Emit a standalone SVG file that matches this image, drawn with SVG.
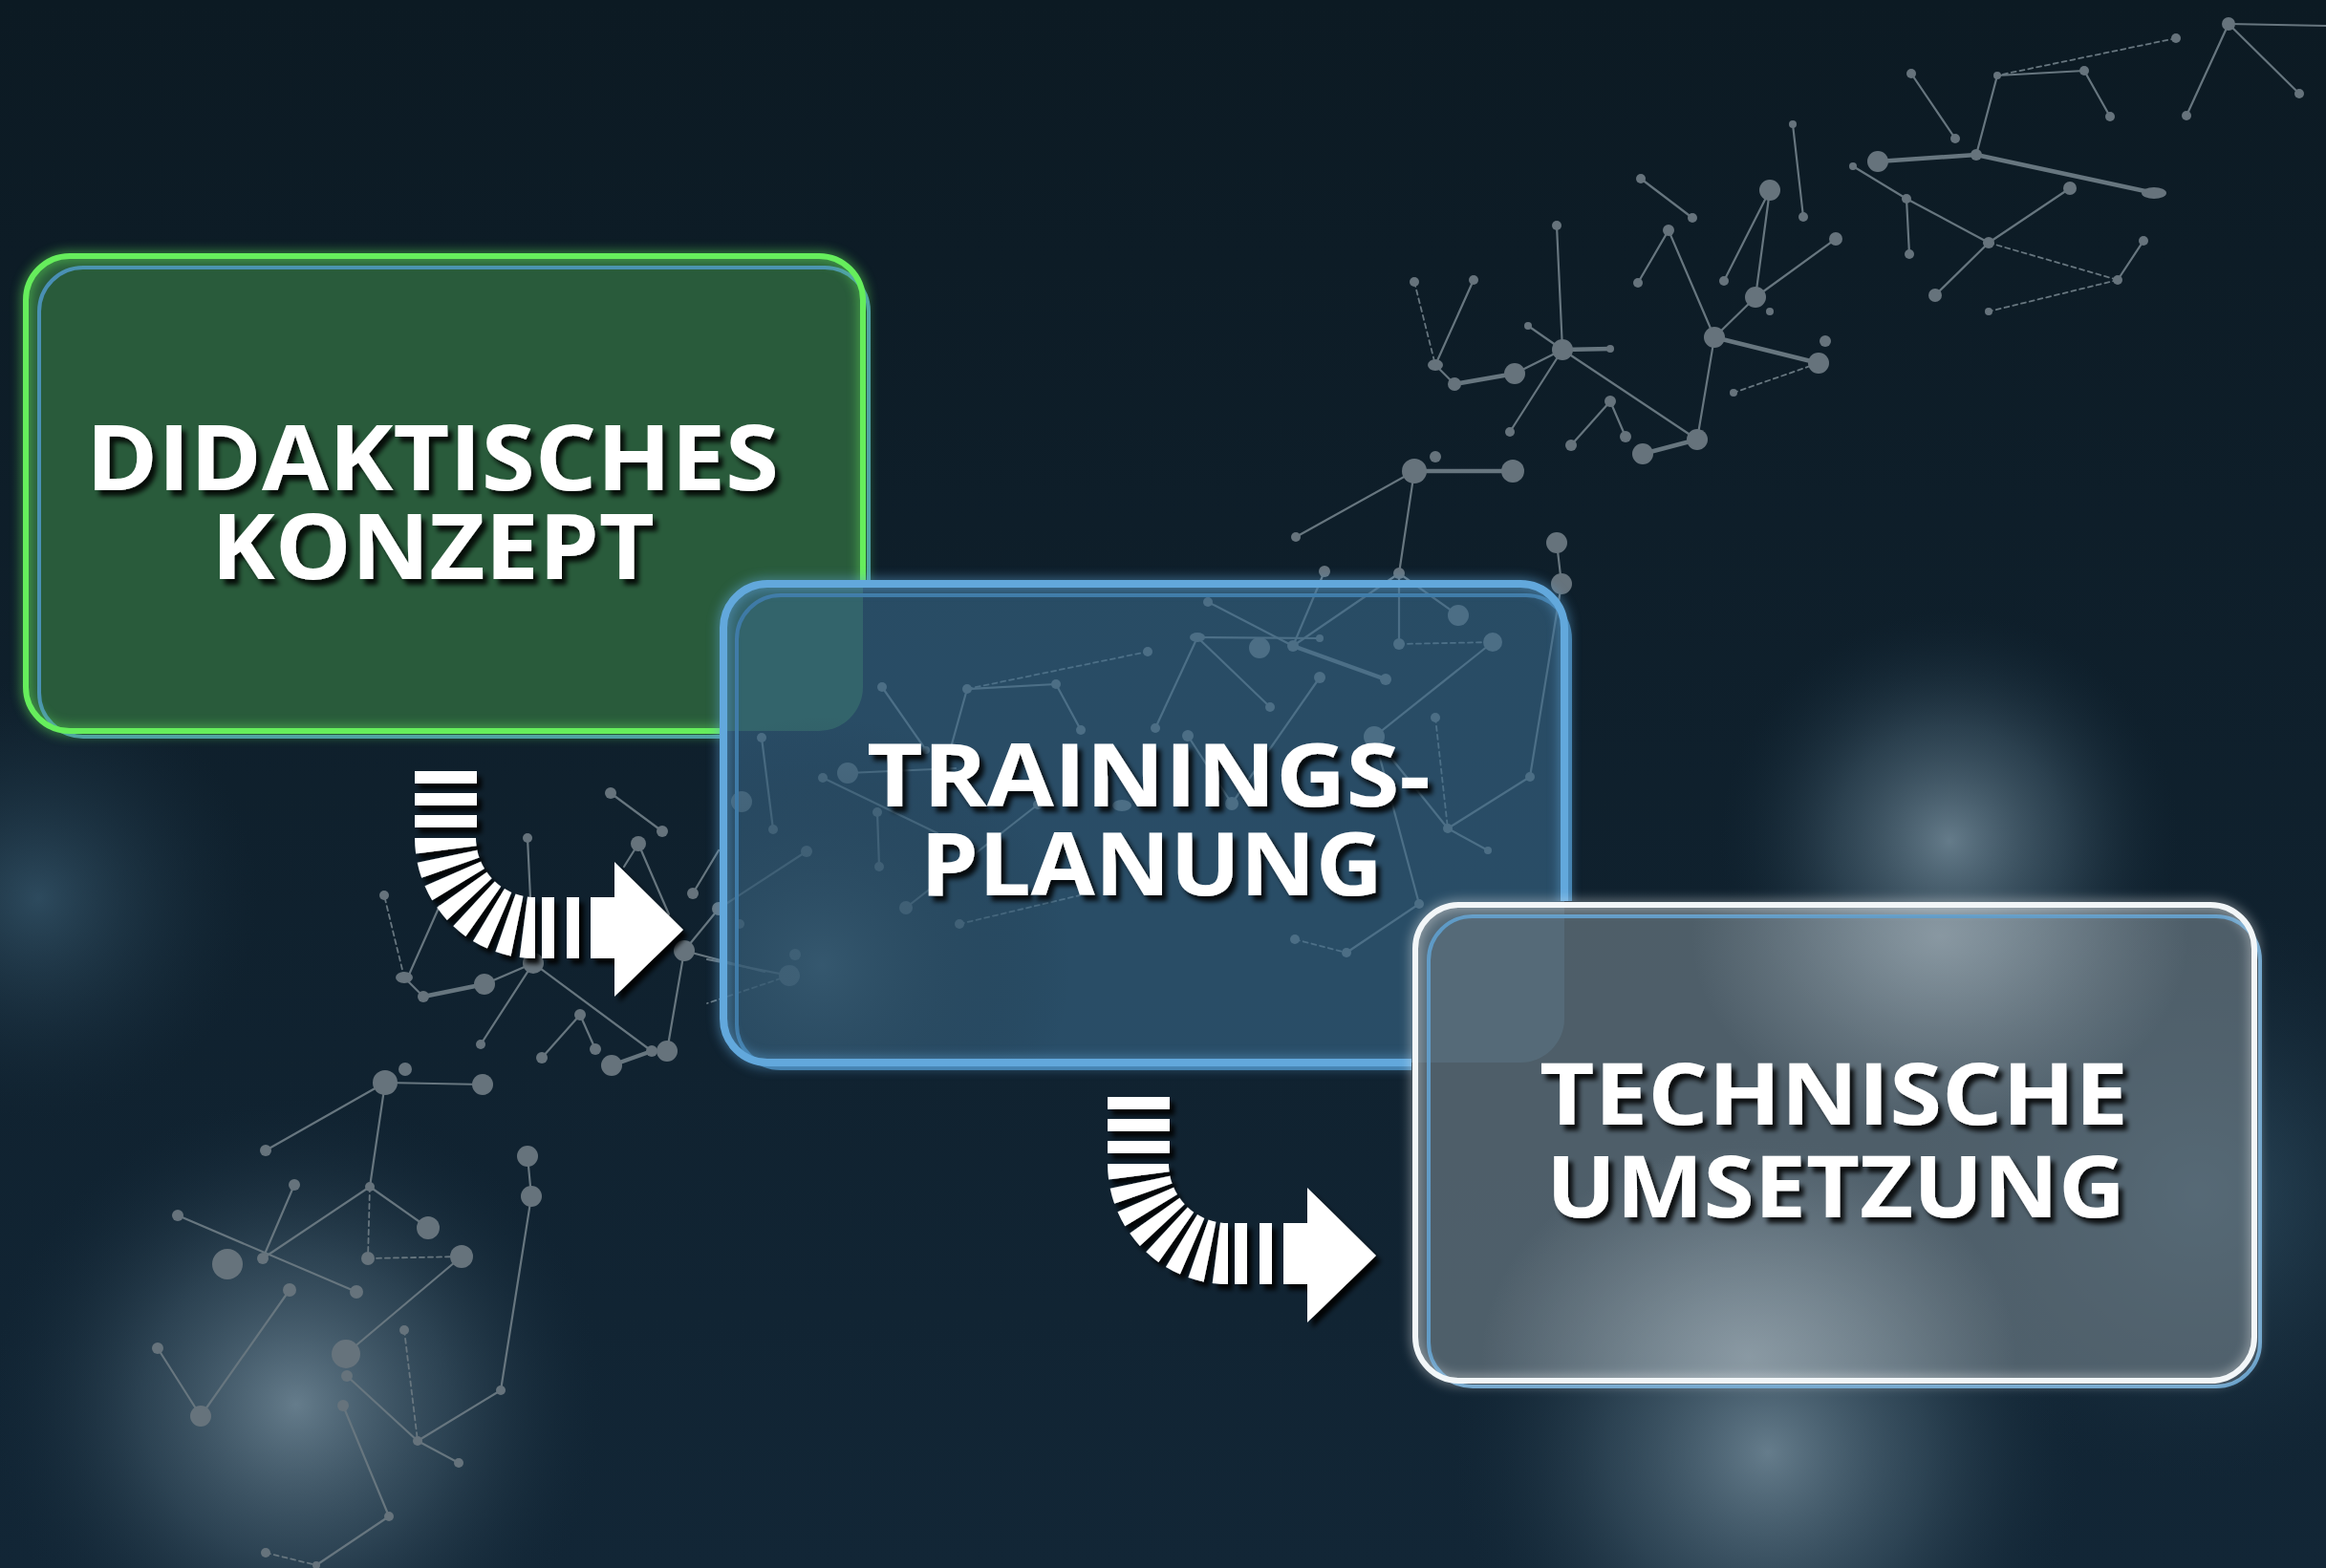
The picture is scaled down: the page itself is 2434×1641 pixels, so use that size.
<svg xmlns="http://www.w3.org/2000/svg" xmlns:xlink="http://www.w3.org/1999/xlink" width="2434" height="1641" viewBox="0 0 2434 1641">
<defs>
<style>
.l{stroke:#67767f;stroke-width:2.2;fill:none;stroke-linecap:round}
.t{stroke-width:4.5}
.k{stroke-dasharray:5 4;stroke-width:1.8}
.d{fill:#66737c}
.lbl{font-family:"Open Sans","Liberation Sans",sans-serif;font-weight:700;fill:#ffffff;filter:url(#tsh)}
.bar{fill:#ffffff}
</style>
<linearGradient id="bg" x1="0" y1="0" x2="0" y2="1">
<stop offset="0" stop-color="#0c1a23"/>
<stop offset="1" stop-color="#122636"/>
</linearGradient>
<radialGradient id="glowA"><stop offset="0" stop-color="#7a92a1" stop-opacity=".8"/><stop offset=".5" stop-color="#4d6778" stop-opacity=".45"/><stop offset="1" stop-color="#1a3040" stop-opacity="0"/></radialGradient>
<radialGradient id="glowB"><stop offset="0" stop-color="#3a5c72" stop-opacity=".7"/><stop offset="1" stop-color="#1a3040" stop-opacity="0"/></radialGradient>
<radialGradient id="glowC"><stop offset="0" stop-color="#a9b7c0" stop-opacity=".6"/><stop offset="1" stop-color="#a9b7c0" stop-opacity="0"/></radialGradient>
<filter id="tsh" x="-10%" y="-30%" width="120%" height="160%"><feDropShadow dx="5" dy="6" stdDeviation="2.5" flood-color="#000" flood-opacity=".85"/></filter>
<filter id="ash" x="-20%" y="-20%" width="140%" height="140%"><feDropShadow dx="5" dy="6" stdDeviation="2.5" flood-color="#000" flood-opacity=".9"/></filter>
<filter id="blur6"><feGaussianBlur stdDeviation="6"/></filter>
<mask id="m-b2" maskUnits="userSpaceOnUse" x="0" y="0" width="2434" height="1641">
<rect x="0" y="0" width="2434" height="1641" fill="#fff"/>
<rect x="753" y="607" width="888" height="509" rx="46" fill="#000"/>
</mask>
<mask id="m-b3" maskUnits="userSpaceOnUse" x="0" y="0" width="2434" height="1641">
<rect x="0" y="0" width="2434" height="1641" fill="#fff"/>
<rect x="1477" y="943" width="886" height="506" rx="46" fill="#000"/>
</mask>
<clipPath id="c-b3"><rect x="1481" y="947" width="878" height="498" rx="46"/></clipPath>
<clipPath id="c-b2"><rect x="757" y="611" width="880" height="501" rx="46"/></clipPath>
<g id="arrowShape">
<rect class="bar" x="434" y="807" width="65" height="13"/>
<rect class="bar" x="434" y="830" width="65" height="13"/>
<rect class="bar" x="434" y="853" width="65" height="13"/>
<path d="M466 877 A94 94 0 0 0 560 971" fill="none" stroke="#ffffff" stroke-width="64" stroke-dasharray="12.5 6.8"/>
<rect class="bar" x="567" y="939" width="13" height="64"/>
<rect class="bar" x="593" y="939" width="13" height="64"/>
<polygon class="bar" points="618,939 643,939 643,902 715,973 643,1043 643,1003 618,1003"/>
</g>
</defs>

<rect x="0" y="0" width="2434" height="1641" fill="url(#bg)"/>
<g id="glows">
<circle cx="310" cy="1470" r="320" fill="url(#glowA)"/>
<circle cx="40" cy="940" r="230" fill="url(#glowB)"/>
<circle cx="2040" cy="880" r="240" fill="url(#glowA)"/>
<circle cx="1850" cy="1520" r="330" fill="url(#glowA)"/>
<circle cx="2300" cy="1250" r="300" fill="url(#glowB)"/>
</g>

<g id="network">
<line class="l" x1="2332" y1="25" x2="2434" y2="27"/>
<line class="l" x1="2332" y1="25" x2="2406" y2="98"/>
<line class="l" x1="2332" y1="25" x2="2288" y2="121"/>
<line class="l k" x1="2277" y1="40" x2="2090" y2="79"/>
<line class="l" x1="2090" y1="79" x2="2181" y2="74"/>
<line class="l" x1="2181" y1="74" x2="2208" y2="122"/>
<line class="l" x1="2000" y1="77" x2="2046" y2="145"/>
<line class="l" x1="2090" y1="79" x2="2068" y2="162"/>
<line class="l t" x1="1965" y1="169" x2="2068" y2="162"/>
<line class="l t" x1="2068" y1="162" x2="2254" y2="202"/>
<line class="l" x1="2166" y1="197" x2="2081" y2="254"/>
<line class="l" x1="1939" y1="174" x2="1995" y2="208"/>
<line class="l" x1="1995" y1="208" x2="2081" y2="254"/>
<line class="l" x1="1995" y1="208" x2="1998" y2="266"/>
<line class="l" x1="2081" y1="254" x2="2025" y2="309"/>
<line class="l k" x1="2081" y1="254" x2="2216" y2="293"/>
<line class="l" x1="2216" y1="293" x2="2243" y2="252"/>
<line class="l k" x1="2216" y1="293" x2="2081" y2="326"/>
<line class="l" x1="1876" y1="130" x2="1887" y2="227"/>
<line class="l" x1="1852" y1="199" x2="1804" y2="294"/>
<line class="l" x1="1852" y1="199" x2="1837" y2="311"/>
<line class="l" x1="1837" y1="311" x2="1921" y2="250"/>
<line class="l" x1="1837" y1="311" x2="1794" y2="353"/>
<line class="l t" x1="1794" y1="353" x2="1903" y2="380"/>
<line class="l k" x1="1903" y1="380" x2="1814" y2="411"/>
<line class="l" x1="1746" y1="241" x2="1794" y2="353"/>
<line class="l" x1="1746" y1="241" x2="1714" y2="296"/>
<line class="l" x1="1717" y1="187" x2="1771" y2="228"/>
<line class="l" x1="1794" y1="353" x2="1776" y2="460"/>
<line class="l" x1="1629" y1="236" x2="1635" y2="366"/>
<line class="l t" x1="1635" y1="366" x2="1685" y2="365"/>
<line class="l" x1="1599" y1="341" x2="1635" y2="366"/>
<line class="l" x1="1635" y1="366" x2="1585" y2="391"/>
<line class="l t" x1="1585" y1="391" x2="1522" y2="402"/>
<line class="l" x1="1502" y1="382" x2="1522" y2="402"/>
<line class="l k" x1="1480" y1="295" x2="1502" y2="382"/>
<line class="l" x1="1542" y1="293" x2="1502" y2="382"/>
<line class="l" x1="1635" y1="366" x2="1580" y2="452"/>
<line class="l" x1="1685" y1="420" x2="1644" y2="466"/>
<line class="l" x1="1685" y1="420" x2="1701" y2="457"/>
<line class="l t" x1="1719" y1="475" x2="1776" y2="460"/>
<line class="l" x1="1635" y1="366" x2="1776" y2="460"/>
<line class="l t" x1="1480" y1="493" x2="1583" y2="493"/>
<line class="l" x1="1480" y1="493" x2="1356" y2="562"/>
<line class="l" x1="1480" y1="493" x2="1464" y2="600"/>
<line class="l" x1="1386" y1="598" x2="1353" y2="676"/>
<line class="l" x1="1464" y1="600" x2="1353" y2="676"/>
<line class="l" x1="1464" y1="600" x2="1526" y2="644"/>
<line class="l" x1="1464" y1="600" x2="1464" y2="674"/>
<line class="l" x1="1629" y1="568" x2="1634" y2="611"/>
<line class="l" x1="1634" y1="611" x2="1601" y2="813"/>
<line class="l" x1="1264" y1="630" x2="1353" y2="676"/>
<line class="l t" x1="1353" y1="676" x2="1450" y2="711"/>
<line class="l" x1="1253" y1="667" x2="1381" y2="668"/>
<line class="l k" x1="1464" y1="674" x2="1562" y2="672"/>
<line class="l" x1="1562" y1="672" x2="1438" y2="771"/>
<line class="l" x1="1253" y1="667" x2="1209" y2="762"/>
<line class="l" x1="1253" y1="667" x2="1329" y2="740"/>
<line class="l" x1="1381" y1="709" x2="1289" y2="841"/>
<line class="l" x1="1438" y1="771" x2="1515" y2="867"/>
<line class="l k" x1="1502" y1="751" x2="1515" y2="867"/>
<line class="l" x1="1515" y1="867" x2="1557" y2="890"/>
<line class="l" x1="1515" y1="867" x2="1601" y2="813"/>
<line class="l" x1="1438" y1="771" x2="1485" y2="946"/>
<line class="l" x1="1485" y1="946" x2="1409" y2="997"/>
<line class="l k" x1="1355" y1="983" x2="1409" y2="997"/>
<line class="l" x1="1243" y1="770" x2="1289" y2="841"/>
<line class="l" x1="1012" y1="721" x2="1105" y2="716"/>
<line class="l k" x1="1012" y1="721" x2="1201" y2="682"/>
<line class="l" x1="1105" y1="716" x2="1131" y2="764"/>
<line class="l" x1="923" y1="719" x2="969" y2="785"/>
<line class="l" x1="1012" y1="721" x2="989" y2="804"/>
<line class="l" x1="887" y1="809" x2="1000" y2="804"/>
<line class="l" x1="861" y1="814" x2="981" y2="872"/>
<line class="l" x1="918" y1="850" x2="920" y2="907"/>
<line class="l" x1="1086" y1="842" x2="948" y2="950"/>
<line class="l k" x1="1004" y1="967" x2="1130" y2="937"/>
<line class="l" x1="797" y1="772" x2="809" y2="868"/>
<line class="l" x1="844" y1="891" x2="752" y2="951"/>
<line class="l" x1="826" y1="1021" x2="740" y2="1004"/>
<line class="l k" x1="826" y1="1021" x2="740" y2="1050"/>
<line class="l" x1="639" y1="830" x2="693" y2="870"/>
<line class="l" x1="668" y1="883" x2="700" y2="957"/>
<line class="l" x1="668" y1="883" x2="653" y2="907"/>
<line class="l" x1="725" y1="935" x2="752" y2="890"/>
<line class="l" x1="716" y1="995" x2="752" y2="951"/>
<line class="l" x1="716" y1="995" x2="800" y2="1017"/>
<line class="l" x1="716" y1="995" x2="698" y2="1100"/>
<line class="l t" x1="682" y1="1100" x2="640" y2="1115"/>
<line class="l" x1="607" y1="1062" x2="623" y2="1098"/>
<line class="l" x1="607" y1="1062" x2="567" y2="1107"/>
<line class="l" x1="558" y1="1008" x2="682" y2="1100"/>
<line class="l" x1="558" y1="1008" x2="507" y2="1030"/>
<line class="l" x1="558" y1="1008" x2="503" y2="1093"/>
<line class="l t" x1="507" y1="1030" x2="443" y2="1043"/>
<line class="l" x1="423" y1="1023" x2="443" y2="1043"/>
<line class="l k" x1="423" y1="1023" x2="402" y2="937"/>
<line class="l" x1="428" y1="1020" x2="460" y2="948"/>
<line class="l" x1="552" y1="877" x2="555" y2="940"/>
<line class="l" x1="403" y1="1133" x2="505" y2="1135"/>
<line class="l" x1="403" y1="1133" x2="278" y2="1204"/>
<line class="l" x1="403" y1="1133" x2="387" y2="1242"/>
<line class="l" x1="552" y1="1210" x2="556" y2="1252"/>
<line class="l" x1="556" y1="1252" x2="524" y2="1455"/>
<line class="l" x1="308" y1="1240" x2="275" y2="1317"/>
<line class="l" x1="387" y1="1242" x2="275" y2="1317"/>
<line class="l" x1="186" y1="1272" x2="373" y2="1352"/>
<line class="l" x1="387" y1="1242" x2="448" y2="1285"/>
<line class="l k" x1="387" y1="1242" x2="385" y2="1317"/>
<line class="l k" x1="385" y1="1317" x2="483" y2="1315"/>
<line class="l" x1="483" y1="1315" x2="362" y2="1417"/>
<line class="l" x1="524" y1="1455" x2="437" y2="1508"/>
<line class="l" x1="363" y1="1440" x2="437" y2="1508"/>
<line class="l k" x1="423" y1="1392" x2="437" y2="1508"/>
<line class="l" x1="437" y1="1508" x2="480" y2="1531"/>
<line class="l" x1="303" y1="1350" x2="210" y2="1482"/>
<line class="l" x1="165" y1="1411" x2="210" y2="1482"/>
<line class="l" x1="359" y1="1471" x2="407" y2="1587"/>
<line class="l" x1="407" y1="1587" x2="331" y2="1638"/>
<line class="l k" x1="278" y1="1625" x2="331" y2="1638"/>

<circle class="d" cx="2332" cy="25" r="7"/><circle class="d" cx="2406" cy="98" r="5"/><circle class="d" cx="2288" cy="121" r="5"/>
<circle class="d" cx="2277" cy="40" r="5"/><circle class="d" cx="2090" cy="79" r="4"/><circle class="d" cx="2181" cy="74" r="5"/>
<circle class="d" cx="2208" cy="122" r="5"/><circle class="d" cx="2000" cy="77" r="5"/><circle class="d" cx="2046" cy="145" r="5"/>
<circle class="d" cx="2068" cy="162" r="6"/><circle class="d" cx="1965" cy="169" r="11"/><ellipse class="d" cx="2254" cy="202" rx="13" ry="6"/>
<circle class="d" cx="2166" cy="197" r="7"/><circle class="d" cx="2081" cy="254" r="6"/><circle class="d" cx="1939" cy="174" r="4"/>
<circle class="d" cx="1995" cy="208" r="5"/><circle class="d" cx="1998" cy="266" r="5"/><circle class="d" cx="2025" cy="309" r="7"/>
<circle class="d" cx="2216" cy="293" r="5"/><circle class="d" cx="2243" cy="252" r="5"/><circle class="d" cx="2081" cy="326" r="4"/>
<circle class="d" cx="1876" cy="130" r="4"/><circle class="d" cx="1887" cy="227" r="5"/><circle class="d" cx="1852" cy="199" r="11"/>
<circle class="d" cx="1804" cy="294" r="5"/><circle class="d" cx="1837" cy="311" r="11"/><circle class="d" cx="1921" cy="250" r="7"/>
<circle class="d" cx="1852" cy="326" r="4"/><circle class="d" cx="1794" cy="353" r="11"/><circle class="d" cx="1903" cy="380" r="11"/>
<circle class="d" cx="1910" cy="357" r="6"/><circle class="d" cx="1814" cy="411" r="4"/><circle class="d" cx="1746" cy="241" r="6"/>
<circle class="d" cx="1714" cy="296" r="5"/><circle class="d" cx="1717" cy="187" r="5"/><circle class="d" cx="1771" cy="228" r="5"/>
<circle class="d" cx="1776" cy="460" r="11"/><circle class="d" cx="1635" cy="366" r="11"/><circle class="d" cx="1629" cy="236" r="5"/>
<circle class="d" cx="1685" cy="365" r="4"/><circle class="d" cx="1599" cy="341" r="4"/><circle class="d" cx="1585" cy="391" r="11"/>
<circle class="d" cx="1522" cy="402" r="7"/><ellipse class="d" cx="1502" cy="382" rx="8" ry="6"/><circle class="d" cx="1480" cy="295" r="5"/>
<circle class="d" cx="1542" cy="293" r="5"/><circle class="d" cx="1580" cy="452" r="5"/><circle class="d" cx="1685" cy="420" r="6"/>
<circle class="d" cx="1644" cy="466" r="6"/><circle class="d" cx="1701" cy="457" r="6"/><circle class="d" cx="1719" cy="475" r="11"/>
<circle class="d" cx="1502" cy="478" r="6"/><circle class="d" cx="1480" cy="493" r="13"/><circle class="d" cx="1583" cy="493" r="12"/>
<circle class="d" cx="1356" cy="562" r="5"/><circle class="d" cx="1464" cy="600" r="6"/><circle class="d" cx="1386" cy="598" r="6"/>
<circle class="d" cx="1526" cy="644" r="11"/><circle class="d" cx="1629" cy="568" r="11"/><circle class="d" cx="1634" cy="611" r="11"/>
<circle class="d" cx="1264" cy="630" r="5"/><circle class="d" cx="1353" cy="676" r="6"/><circle class="d" cx="1450" cy="711" r="6"/>
<circle class="d" cx="1318" cy="678" r="11"/><ellipse class="d" cx="1253" cy="667" rx="8" ry="5"/><circle class="d" cx="1381" cy="668" r="4"/>
<circle class="d" cx="1464" cy="674" r="6"/><circle class="d" cx="1562" cy="672" r="10"/><circle class="d" cx="1438" cy="771" r="11"/>
<circle class="d" cx="1209" cy="762" r="5"/><circle class="d" cx="1329" cy="740" r="5"/><circle class="d" cx="1381" cy="709" r="6"/>
<circle class="d" cx="1502" cy="751" r="5"/><circle class="d" cx="1515" cy="867" r="5"/><circle class="d" cx="1557" cy="890" r="4"/>
<circle class="d" cx="1601" cy="813" r="5"/><circle class="d" cx="1485" cy="946" r="5"/><circle class="d" cx="1409" cy="997" r="5"/>
<circle class="d" cx="1355" cy="983" r="5"/><circle class="d" cx="1243" cy="770" r="6"/><circle class="d" cx="1289" cy="841" r="7"/>
<circle class="d" cx="1105" cy="716" r="5"/><circle class="d" cx="1012" cy="721" r="5"/><circle class="d" cx="1201" cy="682" r="5"/>
<circle class="d" cx="1131" cy="764" r="5"/><circle class="d" cx="923" cy="719" r="5"/><circle class="d" cx="969" cy="785" r="4"/>
<circle class="d" cx="989" cy="804" r="4"/><circle class="d" cx="887" cy="809" r="11"/><circle class="d" cx="861" cy="814" r="5"/>
<circle class="d" cx="918" cy="850" r="5"/><circle class="d" cx="920" cy="907" r="5"/><ellipse class="d" cx="1174" cy="843" rx="10" ry="6"/>
<circle class="d" cx="1086" cy="842" r="5"/><circle class="d" cx="948" cy="950" r="7"/><circle class="d" cx="1004" cy="967" r="5"/>
<circle class="d" cx="797" cy="772" r="5"/><circle class="d" cx="809" cy="868" r="5"/><circle class="d" cx="776" cy="839" r="11"/>
<circle class="d" cx="844" cy="891" r="6"/><circle class="d" cx="832" cy="999" r="6"/><circle class="d" cx="826" cy="1021" r="11"/>
<circle class="d" cx="774" cy="967" r="5"/><circle class="d" cx="639" cy="830" r="6"/><circle class="d" cx="693" cy="870" r="6"/>
<circle class="d" cx="668" cy="883" r="8"/><circle class="d" cx="725" cy="935" r="6"/><circle class="d" cx="752" cy="951" r="7"/>
<circle class="d" cx="716" cy="995" r="11"/><circle class="d" cx="698" cy="1100" r="11"/><circle class="d" cx="682" cy="1100" r="6"/>
<circle class="d" cx="640" cy="1115" r="11"/><circle class="d" cx="623" cy="1098" r="6"/><circle class="d" cx="607" cy="1062" r="6"/>
<circle class="d" cx="567" cy="1107" r="6"/><circle class="d" cx="558" cy="1008" r="11"/><circle class="d" cx="507" cy="1030" r="11"/>
<circle class="d" cx="443" cy="1043" r="6"/><ellipse class="d" cx="423" cy="1023" rx="9" ry="6"/><circle class="d" cx="402" cy="937" r="5"/>
<circle class="d" cx="552" cy="877" r="5"/><circle class="d" cx="503" cy="1093" r="5"/><circle class="d" cx="403" cy="1133" r="13"/>
<circle class="d" cx="424" cy="1119" r="7"/><circle class="d" cx="505" cy="1135" r="11"/><circle class="d" cx="278" cy="1204" r="6"/>
<circle class="d" cx="552" cy="1210" r="11"/><circle class="d" cx="556" cy="1252" r="11"/><circle class="d" cx="308" cy="1240" r="6"/>
<circle class="d" cx="387" cy="1242" r="5"/><circle class="d" cx="186" cy="1272" r="6"/><circle class="d" cx="275" cy="1317" r="6"/>
<circle class="d" cx="238" cy="1323" r="16"/><circle class="d" cx="373" cy="1352" r="7"/><circle class="d" cx="448" cy="1285" r="12"/>
<circle class="d" cx="385" cy="1317" r="7"/><circle class="d" cx="483" cy="1315" r="12"/><circle class="d" cx="362" cy="1417" r="15"/>
<circle class="d" cx="524" cy="1455" r="5"/><circle class="d" cx="437" cy="1508" r="5"/><circle class="d" cx="363" cy="1440" r="6"/>
<circle class="d" cx="423" cy="1392" r="5"/><circle class="d" cx="480" cy="1531" r="5"/><circle class="d" cx="303" cy="1350" r="7"/>
<circle class="d" cx="210" cy="1482" r="11"/><circle class="d" cx="165" cy="1411" r="6"/><circle class="d" cx="359" cy="1471" r="6"/>
<circle class="d" cx="407" cy="1587" r="5"/><circle class="d" cx="278" cy="1625" r="5"/><circle class="d" cx="331" cy="1638" r="4"/>
</g>

<g id="node-1">
<rect x="27" y="268" width="876" height="497" rx="46" fill="#295b3b"/>
<g mask="url(#m-b2)">
<rect x="41" y="280" width="868" height="491" rx="46" fill="none" stroke="#4a8fb5" stroke-width="4"/>
<rect x="27" y="268" width="876" height="497" rx="46" fill="none" stroke="#66ee5c" stroke-width="10" opacity=".5" filter="url(#blur6)"/>
<rect x="27" y="268" width="876" height="497" rx="46" fill="none" stroke="#66ee5c" stroke-width="6"/>
</g>
<text class="lbl" x="90" y="513" font-size="95" textLength="725" lengthAdjust="spacingAndGlyphs">DIDAKTISCHES</text>
<text class="lbl" x="221" y="606" font-size="95" textLength="464" lengthAdjust="spacingAndGlyphs">KONZEPT</text>
</g>

<g id="node-2">
<rect x="757" y="611" width="880" height="501" rx="46" fill="#3a6a8c" fill-opacity=".6"/>
<g clip-path="url(#c-b2)">
<circle cx="860" cy="1010" r="260" fill="url(#glowB)"/>
</g>
<g mask="url(#m-b3)">
<rect x="771" y="623" width="872" height="495" rx="46" fill="none" stroke="#3f7aa6" stroke-width="4"/>
<rect x="757" y="611" width="880" height="501" rx="46" fill="none" stroke="#62a8dc" stroke-width="12" opacity=".5" filter="url(#blur6)"/>
<rect x="757" y="611" width="880" height="501" rx="46" fill="none" stroke="#62a8dc" stroke-width="8"/>
</g>
<text class="lbl" x="907" y="844" font-size="92" textLength="590" lengthAdjust="spacingAndGlyphs">TRAININGS-</text>
<text class="lbl" x="963" y="937" font-size="92" textLength="484" lengthAdjust="spacingAndGlyphs">PLANUNG</text>
</g>

<g id="node-3">
<rect x="1481" y="947" width="878" height="498" rx="46" fill="#667680" fill-opacity=".72"/>
<g clip-path="url(#c-b3)">
<ellipse cx="2030" cy="980" rx="260" ry="200" fill="url(#glowC)"/>
<ellipse cx="1830" cy="1420" rx="280" ry="220" fill="url(#glowC)"/>
</g>
<rect x="1495" y="959" width="870" height="492" rx="46" fill="none" stroke="#5e9ac6" stroke-width="4"/>
<rect x="1481" y="947" width="878" height="498" rx="46" fill="none" stroke="#ffffff" stroke-width="10" opacity=".4" filter="url(#blur6)"/>
<rect x="1481" y="947" width="878" height="498" rx="46" fill="none" stroke="#f2f6f8" stroke-width="6"/>
<text class="lbl" x="1611" y="1177" font-size="90" textLength="616" lengthAdjust="spacingAndGlyphs">TECHNISCHE</text>
<text class="lbl" x="1618" y="1274" font-size="90" textLength="606" lengthAdjust="spacingAndGlyphs">UMSETZUNG</text>
</g>

<g id="connectors">
<g id="arrow-1" filter="url(#ash)"><use xlink:href="#arrowShape"/></g>
<g id="arrow-2" filter="url(#ash)"><use xlink:href="#arrowShape" transform="translate(725,341)"/></g>
</g>
</svg>
